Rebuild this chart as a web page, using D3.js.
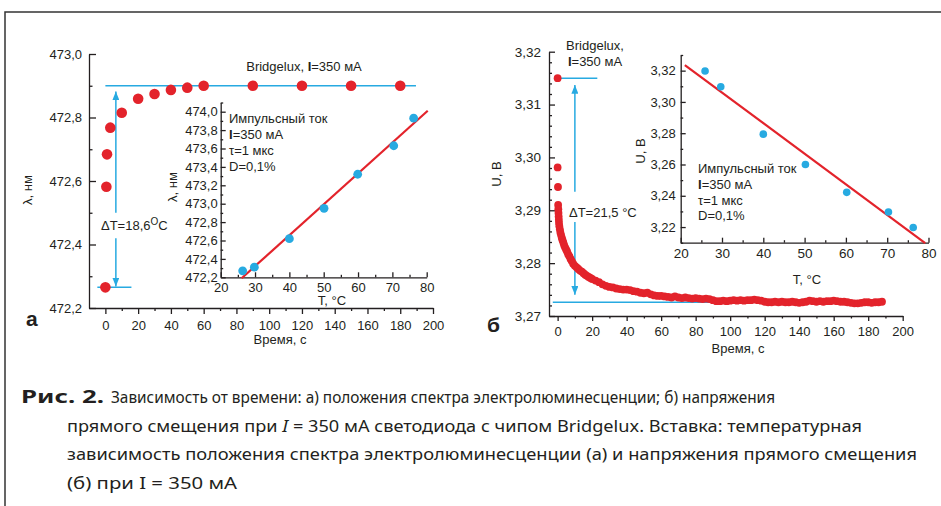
<!DOCTYPE html>
<html>
<head>
<meta charset="utf-8">
<script src="https://cdn.jsdelivr.net/npm/d3@7"></script>
<style>
    body { margin: 0; background: #fff; }
    svg { display: block; font-family: "Liberation Sans", Arial, sans-serif; fill: #231f20; }
    .axis path, .axis line { stroke: #231f20; stroke-width: 1.3; }
    .axis text { font-family: "Liberation Sans", Arial, sans-serif; font-size: 13px; fill: #231f20; }
    .cap { font-family: "Noto Sans", sans-serif; font-size: 17px; fill: #231f20; }
</style>
</head>
<body>
<div id="chart"></div>
<script>
// (а) длина волны от времени
const lamTime  = [0, 0.6, 1, 3, 10, 20, 30, 40, 50, 60, 90, 120, 150, 180];
const lamValue = [472.265, 472.582, 472.684, 472.768, 472.815, 472.859, 472.874, 472.887, 472.894, 472.9, 472.9, 472.9, 472.9, 472.9];
const lamLevels = [472.9, 472.265];

// вставка (а): длина волны от температуры
const insATemp = [26.4, 29.8, 40, 50.1, 59.9, 70.4, 76.2];
const insALam  = [472.27, 472.31, 472.62, 472.95, 473.32, 473.63, 473.93];
const insAFit  = [[26.1, 472.19], [80.3, 474.01]];

// (б) напряжение от времени
const uTime = [0, 0, 0.2, 0.3, 0.4, 0.5, 0.6, 0.7, 0.8, 1, 1.3, 1.6, 2, 2.4, 2.8, 3.3, 3.8, 4.3, 4.9, 5.5, 6.1, 6.8, 7.5, 8.2, 9,
    10, 11, 12, 13, 14, 15, 16, 17, 18, 19, 20, 22, 24, 26, 28, 30, 32, 34, 36, 38, 40, 42, 44, 46, 48, 50, 52, 54, 56, 58,
    60, 62, 64, 66, 68, 70, 72, 74, 76, 78, 80, 82, 84, 86, 88, 90, 92, 94, 96, 98, 100, 102, 104, 106, 108, 110, 112, 114,
    116, 118, 120, 122, 124, 126, 128, 130, 132, 134, 136, 138, 140, 142, 144, 146, 148, 150, 152, 154, 156, 158, 160, 162,
    164, 166, 168, 170, 172, 174, 176, 178, 180, 182, 184, 186, 188];
const uValue = [3.315, 3.2981, 3.2944, 3.2910, 3.2902, 3.2895, 3.2888, 3.2882, 3.2876, 3.2870, 3.2864, 3.2858, 3.2853, 3.2848,
    3.2844, 3.2839, 3.2834, 3.2830, 3.2826, 3.2822, 3.2817, 3.2813, 3.2808, 3.2804, 3.2799,
    3.2795, 3.2792, 3.2789, 3.2786, 3.2784, 3.2781, 3.2778, 3.2776, 3.2774, 3.2772, 3.2770, 3.2767, 3.2764, 3.2760, 3.2757,
    3.2755, 3.2754, 3.2752, 3.2751, 3.2750, 3.2750, 3.2749, 3.2747, 3.2746, 3.2744, 3.2743, 3.2744, 3.2741, 3.2739, 3.2738,
    3.2738, 3.2737, 3.2736, 3.2735, 3.2737, 3.2735, 3.2734, 3.2735, 3.2734, 3.2733, 3.2734, 3.2733, 3.2732, 3.2733, 3.2732,
    3.2730, 3.2728, 3.2728, 3.2729, 3.2728, 3.2729, 3.2730, 3.2729, 3.2730, 3.2729, 3.2730, 3.2730, 3.2731, 3.2730, 3.2729,
    3.2727, 3.2726, 3.2726, 3.2727, 3.2726, 3.2727, 3.2726, 3.2726, 3.2727, 3.2726, 3.2725, 3.2726, 3.2727, 3.2729, 3.2728,
    3.2727, 3.2728, 3.2727, 3.2728, 3.2728, 3.2729, 3.2728, 3.2727, 3.2727, 3.2726, 3.2725, 3.2724, 3.2724, 3.2725, 3.2726,
    3.2726, 3.2725, 3.2726, 3.2726, 3.2727];
const uLevels = [3.315, 3.2726];

// вставка (б): напряжение от температуры
const insBTemp = [25.9, 29.7, 40, 50.2, 60.2, 70.3, 76.3];
const insBU    = [3.3198, 3.3097, 3.2794, 3.26, 3.2422, 3.2296, 3.2197];
const insBFit  = [[21, 3.3236], [79.2, 3.2097]];

// тики
const lamTicks = [472.2, 472.4, 472.6, 472.8, 473.0];
const lamMinor = [472.3, 472.5, 472.7, 472.9];
const insALamTicks = [472.2, 472.4, 472.6, 472.8, 473.0, 473.2, 473.4, 473.6, 473.8, 474.0];
const insALamMinor = [472.3, 472.5, 472.7, 472.9, 473.1, 473.3, 473.5, 473.7, 473.9, 474.1];
const timeTicks = [0, 20, 40, 60, 80, 100, 120, 140, 160, 180, 200];
const timeMinor = [10, 30, 50, 70, 90, 110, 130, 150, 170, 190];
const tempTicks = [20, 30, 40, 50, 60, 70, 80];
const tempMinor = [25, 35, 45, 55, 65, 75];
const uTicks = [3.27, 3.28, 3.29, 3.30, 3.31, 3.32];
const uMinor = [3.272, 3.274, 3.276, 3.278, 3.282, 3.284, 3.286, 3.288, 3.292, 3.294, 3.296, 3.298,
    3.302, 3.304, 3.306, 3.308, 3.312, 3.314, 3.316, 3.318];
const insBUTicks = [3.22, 3.24, 3.26, 3.28, 3.30, 3.32];
const insBUMinor = [3.21, 3.23, 3.25, 3.27, 3.29, 3.31, 3.33];

(function () {

    const RED = '#e3232b', BLUE = '#27aae1';

    const svg = d3.select('#chart')
        .append('svg')
        .attr('width', 941)
        .attr('height', 506);

    const comma = p => d => d.toFixed(p).replace('.', ',');

    // рамка
    svg.append('path')
        .attr('d', 'M5,506 V12 H941')
        .attr('fill', 'none')
        .attr('stroke', '#333')
        .attr('stroke-width', 1.5);

    // стрелки
    svg.append('defs').append('marker')
        .attr('id', 'arr')
        .attr('viewBox', '0 0 10 8')
        .attr('refX', 10).attr('refY', 4)
        .attr('markerUnits', 'userSpaceOnUse')
        .attr('markerWidth', 9).attr('markerHeight', 7)
        .attr('orient', 'auto')
        .append('path')
        .attr('d', 'M0,0 L10,4 L0,8 z')
        .attr('fill', BLUE);

    // ось: основная и мелкие риски
    function axis(make, scale, at, major, minor, fmt, size, pad, fs) {
        const g = svg.append('g').attr('class', 'axis').attr('transform', at);
        g.call(make(scale).tickValues(major).tickFormat(fmt)
            .tickSizeInner(size).tickSizeOuter(0).tickPadding(pad));
        g.selectAll('text').style('font-size', fs + 'px');
        const m = svg.append('g').attr('class', 'axis').attr('transform', at);
        m.call(make(scale).tickValues(minor).tickFormat('')
            .tickSizeInner(size / 2).tickSizeOuter(0));
        m.select('.domain').remove();
        return g;
    }

    function label(x, y, txt, rot, fs) {
        return svg.append('text')
            .attr('transform', `translate(${x},${y})` + (rot ? ' rotate(-90)' : ''))
            .attr('text-anchor', 'middle')
            .style('font-size', (fs || 13) + 'px')
            .text(txt);
    }

    function line(pts, color, w, marker) {
        const p = svg.append('line')
            .attr('x1', pts[0][0]).attr('y1', pts[0][1])
            .attr('x2', pts[1][0]).attr('y2', pts[1][1])
            .attr('stroke', color)
            .attr('stroke-width', w);
        if (marker) p.attr('marker-end', 'url(#arr)');
        return p;
    }

    // ---------- панель а ----------
    const xa = d3.scaleLinear().domain([-10, 200]).range([89, 433]);
    const ya = d3.scaleLinear().domain([472.2, 473.0]).range([308, 54]);

    axis(d3.axisLeft, ya, 'translate(89,0)', lamTicks, lamMinor, comma(1), -7, 7, 13);
    axis(d3.axisBottom, xa, 'translate(0,308)', timeTicks, timeMinor, d3.format('d'), 6, 6.5, 13);

    label(280, 344, 'Время, с');
    label(32, 190, 'λ, нм', true);
    svg.append('text').attr('x', 26).attr('y', 326)
        .style('font-size', '21px').style('font-weight', 'bold').text('а');

    // уровни и стрелки
    line([[xa(0), ya(lamLevels[0])], [xa(189.6), ya(lamLevels[0])]], BLUE, 1.5);
    line([[xa(-4.9), ya(lamLevels[1])], [xa(15.9), ya(lamLevels[1])]], BLUE, 1.5);
    line([[xa(6.4), ya(472.5)], [xa(6.4), ya(472.882)]], BLUE, 1.5, true);
    line([[xa(6.4), ya(472.42)], [xa(6.4), ya(472.268)]], BLUE, 1.5, true);

    const dT1 = svg.append('text').attr('x', 101).attr('y', 230).style('font-size', '13px');
    dT1.append('tspan').text('ΔT=18,6');
    dT1.append('tspan').attr('dy', -5).style('font-size', '10px').text('O');
    dT1.append('tspan').attr('dy', 5).text('C');

    svg.append('g').selectAll('circle')
        .data(lamTime)
        .enter()
        .append('circle')
        .attr('r', 5.3)
        .attr('fill', RED)
        .attr('cx', d => xa(d))
        .attr('cy', (d, i) => ya(lamValue[i]));

    const ttl = svg.append('text').attr('x', 304).attr('y', 71)
        .attr('text-anchor', 'middle').style('font-size', '13px');
    ttl.append('tspan').text('Bridgelux, ');
    ttl.append('tspan').style('font-weight', 'bold').text('I');
    ttl.append('tspan').text('=350 мА');

    // вставка а
    const xia = d3.scaleLinear().domain([20, 80]).range([220.7, 426.7]);
    const yia = d3.scaleLinear().domain([472.2, 474.1]).range([277.3, 102.5]);

    axis(d3.axisLeft, yia, 'translate(220.7,0)', insALamTicks, insALamMinor, comma(1), -5, 3, 13);
    axis(d3.axisBottom, xia, 'translate(0,277.3)', tempTicks, tempMinor, d3.format('d'), -5, 5, 13);
    label(332, 305, 'T, °C');
    label(177, 187, 'λ, нм', true);

    line(insAFit.map(d => [xia(d[0]), yia(d[1])]), RED, 2.2);

    svg.append('g').selectAll('circle')
        .data(insATemp)
        .enter()
        .append('circle')
        .attr('r', 4.4)
        .attr('fill', BLUE)
        .attr('cx', d => xia(d))
        .attr('cy', (d, i) => yia(insALam[i]));

    function note(x, y, step) {
        const t = svg.append('g').style('font-size', '13px');
        t.append('text').attr('x', x).attr('y', y).text('Импульсный ток');
        const l2 = t.append('text').attr('x', x).attr('y', y + step);
        l2.append('tspan').style('font-weight', 'bold').text('I');
        l2.append('tspan').text('=350 мА');
        t.append('text').attr('x', x).attr('y', y + 2 * step).text('τ=1 мкс');
        t.append('text').attr('x', x).attr('y', y + 3 * step).text('D=0,1%');
    }
    note(229, 122.5, 16);

    // ---------- панель б ----------
    const xb = d3.scaleLinear().domain([-5, 200]).range([549, 902.7]);
    const yb = d3.scaleLinear().domain([3.27, 3.32]).range([316, 51.7]);

    axis(d3.axisLeft, yb, 'translate(549,0)', uTicks, uMinor, comma(2), -6, 8, 13.5);
    axis(d3.axisBottom, xb, 'translate(0,316)', timeTicks, timeMinor, d3.format('d'), 5, 6, 13);

    label(738, 353, 'Время, с');
    label(501, 174, 'U, В', true);
    svg.append('text').attr('x', 487).attr('y', 332)
        .style('font-size', '21px').style('font-weight', 'bold').text('б');

    const ttl2 = svg.append('text').attr('text-anchor', 'middle').style('font-size', '13px');
    ttl2.append('tspan').attr('x', 595).attr('y', 50).text('Bridgelux,');
    const t2 = ttl2.append('tspan').attr('x', 595).attr('y', 66);
    t2.append('tspan').style('font-weight', 'bold').text('I');
    t2.append('tspan').text('=350 мА');

    line([[xb(1.3), yb(uLevels[0])], [xb(23), yb(uLevels[0])]], BLUE, 1.5);
    line([[xb(-2.8), yb(uLevels[1])], [xb(90), yb(uLevels[1])]], BLUE, 1.5);
    line([[xb(10), yb(3.2935)], [xb(10), yb(3.3137)]], BLUE, 1.5, true);
    line([[xb(10), yb(3.2878)], [xb(10), yb(3.274)]], BLUE, 1.5, true);

    svg.append('text').attr('x', 569).attr('y', 217).style('font-size', '13px').text('ΔT=21,5 °C');

    svg.append('g').selectAll('circle')
        .data(uTime)
        .enter()
        .append('circle')
        .attr('r', 3.9)
        .attr('fill', RED)
        .attr('cx', d => xb(d))
        .attr('cy', (d, i) => yb(uValue[i]));

    // вставка б
    const xib = d3.scaleLinear().domain([20, 80]).range([680.7, 928.5]);
    const yib = d3.scaleLinear().domain([3.21, 3.33]).range([242.7, 55]);

    axis(d3.axisLeft, yib, 'translate(680.7,0)', insBUTicks, insBUMinor, comma(2), -5, 5, 13);
    axis(d3.axisBottom, xib, 'translate(0,242.7)', tempTicks, tempMinor, d3.format('d'), -5, 5.5, 13.5);
    label(807, 284, 'T, °C');
    label(645, 151, 'U, В', true);

    line(insBFit.map(d => [xib(d[0]), yib(d[1])]), RED, 2.2);

    svg.append('g').selectAll('circle')
        .data(insBTemp)
        .enter()
        .append('circle')
        .attr('r', 3.8)
        .attr('fill', BLUE)
        .attr('cx', d => xib(d))
        .attr('cy', (d, i) => yib(insBU[i]));

    note(698, 173, 15.8);

    // ---------- подпись ----------
    const cap = svg.append('g').attr('class', 'cap');
    cap.append('text').attr('x', 21).attr('y', 403)
        .attr('textLength', 83).attr('lengthAdjust', 'spacingAndGlyphs')
        .style('font-weight', 'bold').text('Рис. 2.');
    cap.append('text').attr('x', 111).attr('y', 403)
        .attr('textLength', 664).attr('lengthAdjust', 'spacingAndGlyphs')
        .text('Зависимость от времени: а) положения спектра электролюминесценции; б) напряжения');
    const c2 = cap.append('text').attr('x', 67).attr('y', 431.5)
        .attr('textLength', 795).attr('lengthAdjust', 'spacingAndGlyphs');
    c2.append('tspan').text('прямого смещения при ');
    c2.append('tspan').style('font-style', 'italic').text('I');
    c2.append('tspan').text(' = 350 мА светодиода с чипом Bridgelux. Вставка: температурная');
    cap.append('text').attr('x', 67).attr('y', 460)
        .attr('textLength', 850).attr('lengthAdjust', 'spacingAndGlyphs')
        .text('зависимость положения спектра электролюминесценции (а) и напряжения прямого смещения');
    cap.append('text').attr('x', 67).attr('y', 488.5)
        .attr('textLength', 170).attr('lengthAdjust', 'spacingAndGlyphs')
        .text('(б) при I = 350 мА');

})();
</script>
</body>
</html>
